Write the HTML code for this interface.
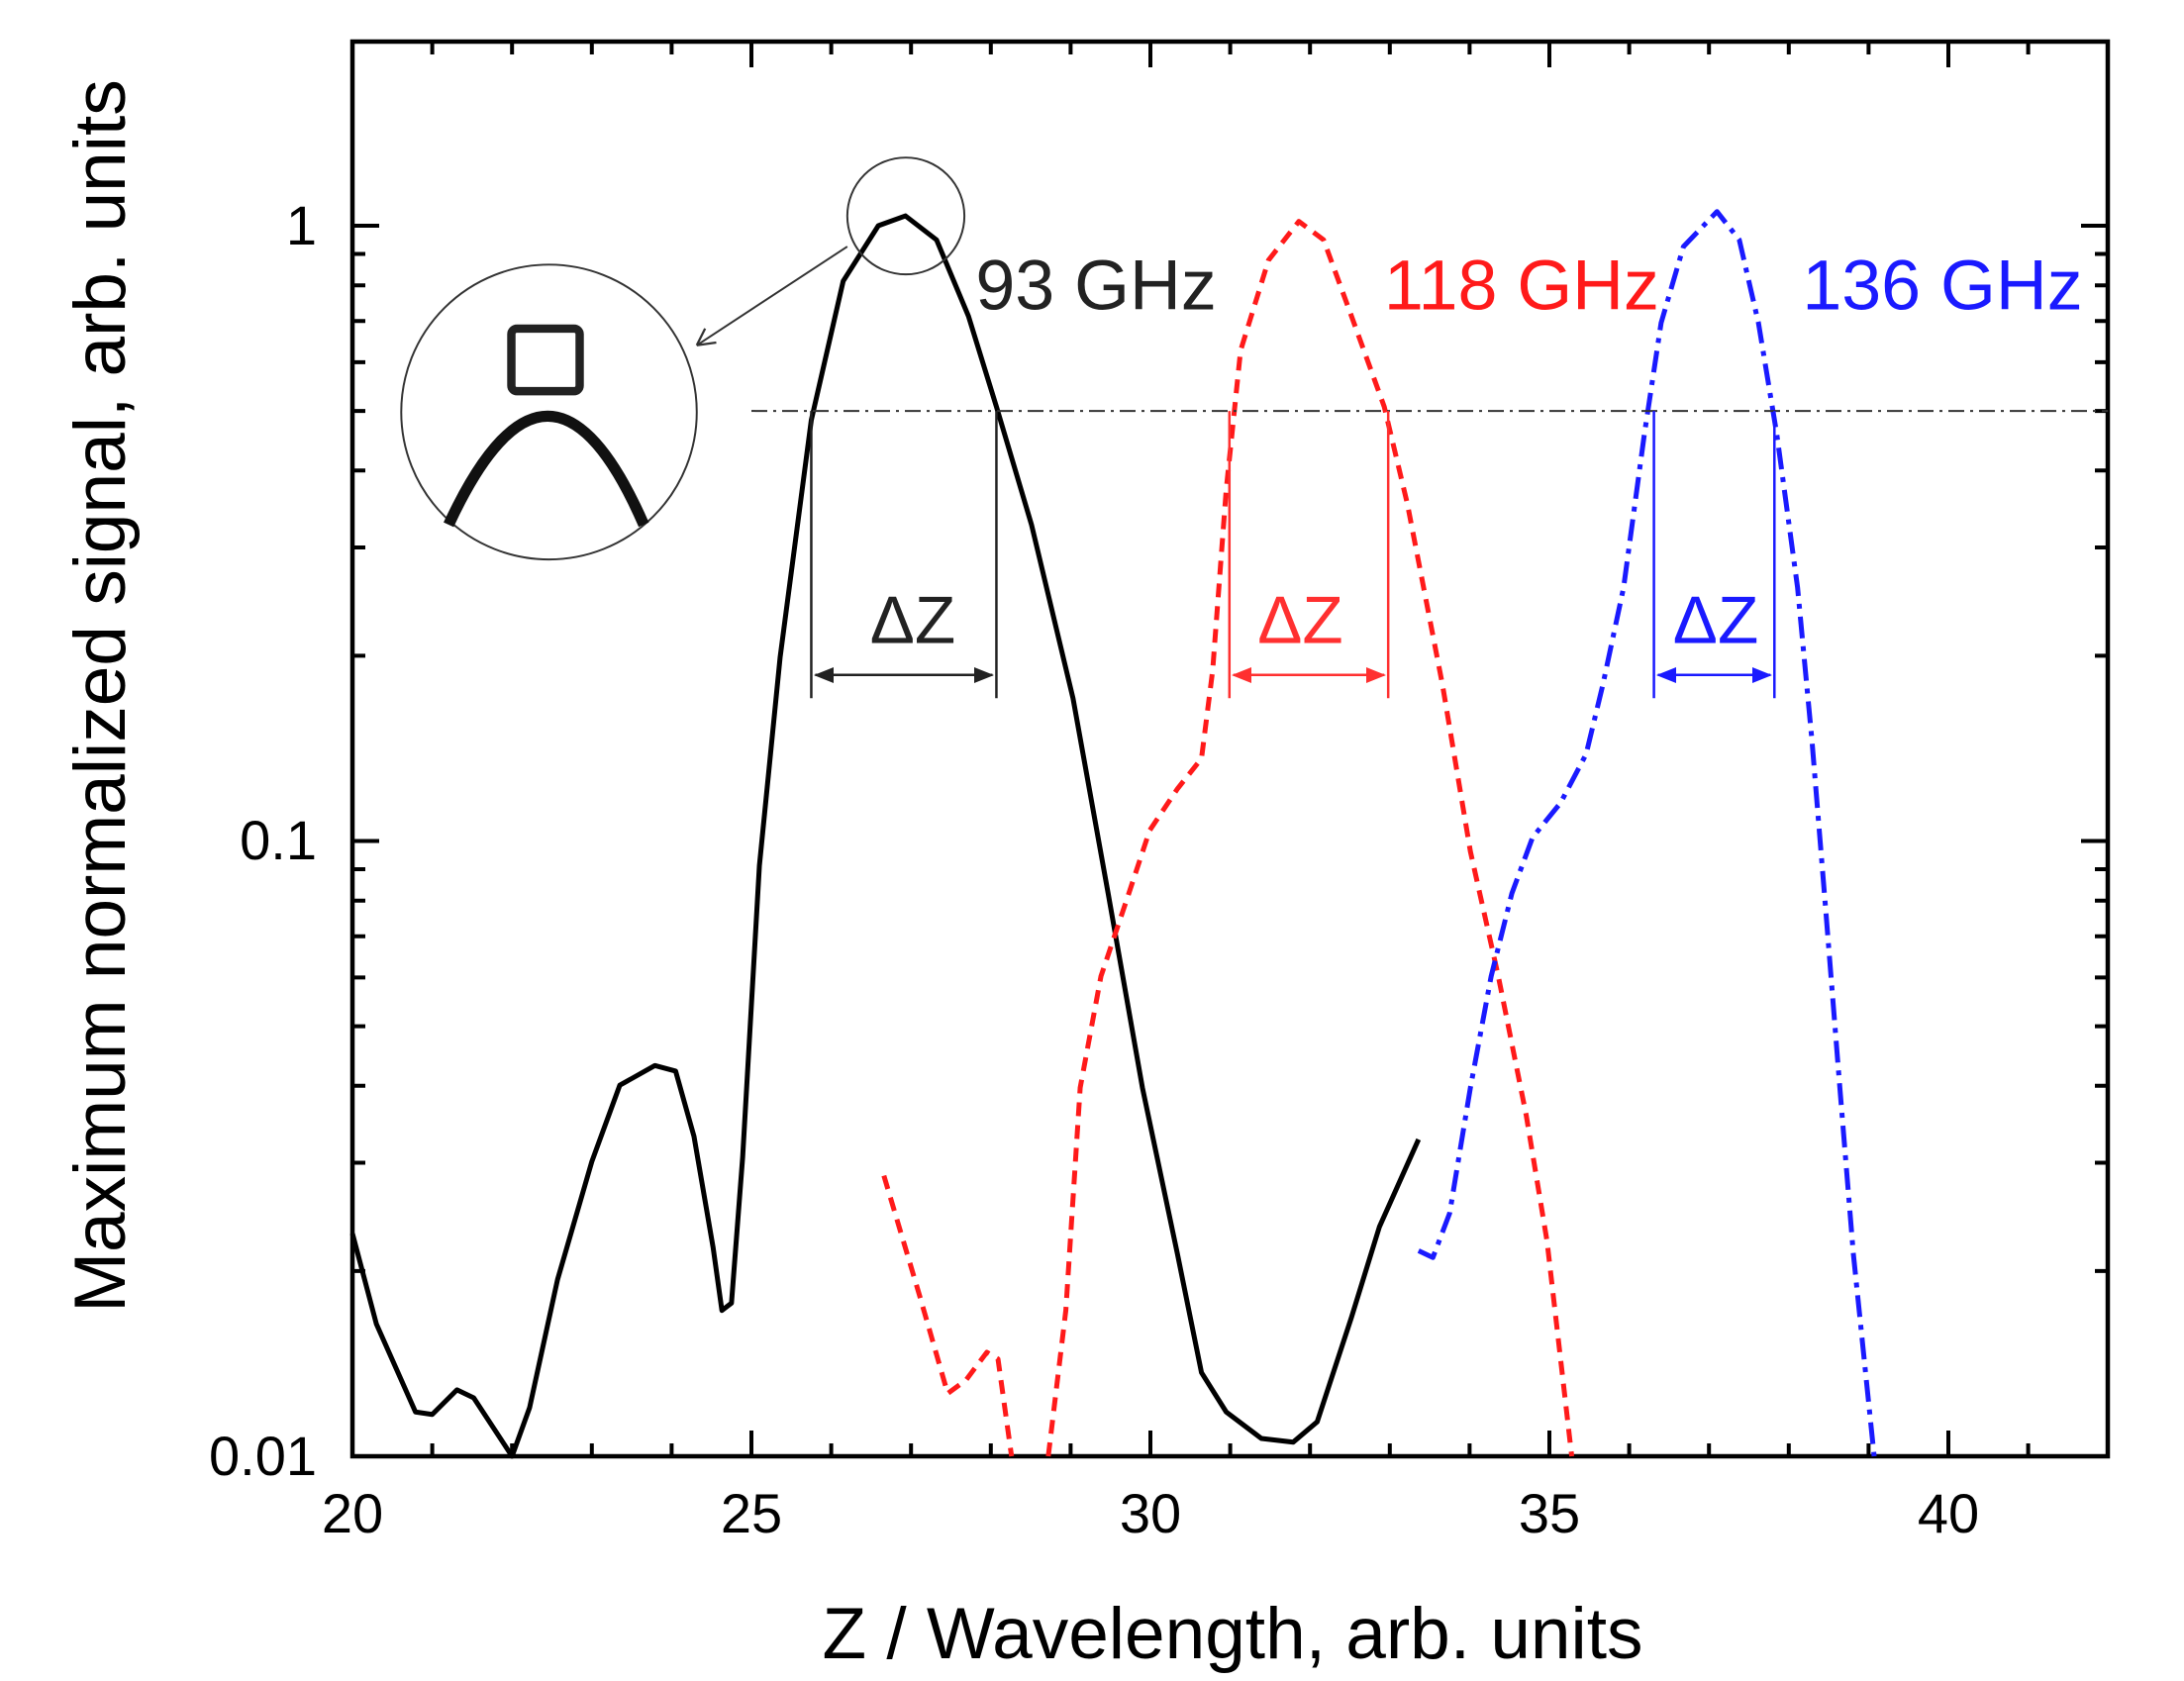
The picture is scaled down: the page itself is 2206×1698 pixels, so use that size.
<!DOCTYPE html>
<html><head><meta charset="utf-8"><style>html,body{margin:0;padding:0;background:#fff}svg{display:block}</style></head>
<body>
<svg width="2206" height="1698" viewBox="0 0 2206 1698" xmlns="http://www.w3.org/2000/svg" font-family="Liberation Sans, Arial, sans-serif">
<rect width="2206" height="1698" fill="#fff"/>
<rect x="356" y="42" width="1773" height="1429" fill="none" stroke="#000" stroke-width="4.5"/>
<g stroke="#000" stroke-width="4" fill="none">
<path d="M356 1471h27M356 849.5h27M356 228h27M2129 1471h-27M2129 849.5h-27M2129 228h-27"/>
<path d="M356 1283.9h13M356 1174.5h13M356 1096.8h13M356 1036.6h13M356 987.4h13M356 945.8h13M356 909.8h13M356 878h13M356 662.4h13M356 553h13M356 475.3h13M356 415.1h13M356 365.9h13M356 324.3h13M356 288.3h13M356 256.5h13"/>
<path d="M2129 1283.9h-13M2129 1174.5h-13M2129 1096.8h-13M2129 1036.6h-13M2129 987.4h-13M2129 945.8h-13M2129 909.8h-13M2129 878h-13M2129 662.4h-13M2129 553h-13M2129 475.3h-13M2129 415.1h-13M2129 365.9h-13M2129 324.3h-13M2129 288.3h-13M2129 256.5h-13"/>
<path d="M759 1471v-26M1162 1471v-26M1565 1471v-26M1968 1471v-26M759 42v26M1162 42v26M1565 42v26M1968 42v26"/>
<path d="M436.6 1471v-13M517.2 1471v-13M597.8 1471v-13M678.4 1471v-13M839.6 1471v-13M920.2 1471v-13M1000.8 1471v-13M1081.4 1471v-13M1242.6 1471v-13M1323.2 1471v-13M1403.8 1471v-13M1484.4 1471v-13M1645.6 1471v-13M1726.2 1471v-13M1806.8 1471v-13M1887.4 1471v-13M2048.6 1471v-13"/>
<path d="M436.6 42v13M517.2 42v13M597.8 42v13M678.4 42v13M839.6 42v13M920.2 42v13M1000.8 42v13M1081.4 42v13M1242.6 42v13M1323.2 42v13M1403.8 42v13M1484.4 42v13M1645.6 42v13M1726.2 42v13M1806.8 42v13M1887.4 42v13M2048.6 42v13"/>
</g>
<g font-size="56" fill="#000">
<text x="320" y="1490" text-anchor="end">0.01</text>
<text x="320" y="868" text-anchor="end">0.1</text>
<text x="320" y="247" text-anchor="end">1</text>
<g text-anchor="middle">
<text x="356" y="1548">20</text><text x="759" y="1548">25</text><text x="1162" y="1548">30</text><text x="1565" y="1548">35</text><text x="1968" y="1548">40</text>
</g>
</g>
<text x="1245" y="1675" font-size="73" text-anchor="middle">Z / Wavelength, arb. units</text>
<text transform="translate(126,703) rotate(-90)" font-size="73" text-anchor="middle">Maximum normalized signal, arb. units</text>

<g transform="matrix(80.6,0,0,-621.5,-1256,228)" fill="none" stroke-linejoin="round">
<polyline vector-effect="non-scaling-stroke" stroke="#000" stroke-width="5" points="20,-1.638 20.3,-1.785 20.79,-1.928 21,-1.932 21.31,-1.892 21.52,-1.905 22,-2 22.22,-1.921 22.57,-1.713 23,-1.521 23.35,-1.397 23.79,-1.365 24.05,-1.374 24.28,-1.48 24.52,-1.661 24.63,-1.763 24.75,-1.751 24.89,-1.514 25.1,-1.04 25.36,-0.701 25.75,-0.316 26.15,-0.09 26.59,0 26.93,0.016 27.32,-0.023 27.72,-0.147 28.07,-0.294 28.51,-0.486 29.03,-0.768 29.47,-1.085 29.9,-1.401 30.34,-1.672 30.64,-1.864 30.95,-1.928 31.39,-1.971 31.79,-1.977 32.09,-1.944 32.52,-1.774 32.87,-1.627 33.36,-1.485"/>
<polyline vector-effect="non-scaling-stroke" stroke="#ff1a1a" stroke-width="5" stroke-dasharray="14 9" points="26.66,-1.544 27.11,-1.74 27.46,-1.898 27.69,-1.876 27.95,-1.831 28.09,-1.842 28.26,-2"/>
<polyline vector-effect="non-scaling-stroke" stroke="#ff1a1a" stroke-width="5" stroke-dasharray="14 9" points="28.72,-2 28.94,-1.763 29.12,-1.401 29.38,-1.22 29.73,-1.085 29.99,-0.983 30.34,-0.915 30.64,-0.866 30.78,-0.723 30.95,-0.429 31.13,-0.203 31.48,-0.056 31.86,0.007 32.17,-0.023 32.52,-0.147 32.93,-0.294 33.22,-0.452 33.66,-0.746 34.01,-1.017 34.36,-1.22 34.71,-1.446 34.97,-1.65 35.28,-2"/>
<polyline vector-effect="non-scaling-stroke" stroke="#1a1aff" stroke-width="5" stroke-dasharray="22 8 5 8" points="33.36,-1.666 33.54,-1.677 33.75,-1.605 34.01,-1.401 34.27,-1.22 34.53,-1.085 34.79,-0.994 35.14,-0.938 35.46,-0.859 35.67,-0.746 35.93,-0.588 36.19,-0.339 36.4,-0.158 36.68,-0.034 37.1,0.023 37.38,-0.023 37.62,-0.158 37.85,-0.339 38.11,-0.588 38.29,-0.836 38.46,-1.107 38.64,-1.401 38.81,-1.672 39.07,-2"/>
<line vector-effect="non-scaling-stroke" x1="25" y1="-0.301" x2="42" y2="-0.301" stroke="#333" stroke-width="2" stroke-dasharray="16 6 3 6"/>
<path vector-effect="non-scaling-stroke" stroke="#222" stroke-width="2.5" d="M25.75,-0.301V-0.768M28.07,-0.301V-0.768M25.8,-0.73H28.02"/>
<path vector-effect="non-scaling-stroke" stroke="#ff3030" stroke-width="2.5" d="M30.99,-0.301V-0.768M32.98,-0.301V-0.768M31.04,-0.73H32.93"/>
<path vector-effect="non-scaling-stroke" stroke="#1a1aff" stroke-width="2.5" d="M36.31,-0.301V-0.768M37.82,-0.301V-0.768M36.36,-0.73H37.77"/>
</g>
<g>
<path d="M842 674L822 682L842 690ZM984 674L1004 682L984 690Z" fill="#222"/>
<path d="M1264 674L1244 682L1264 690ZM1380 674L1400 682L1380 690Z" fill="#ff3030"/>
<path d="M1693 674L1673 682L1693 690ZM1770 674L1790 682L1770 690Z" fill="#1a1aff"/>
</g>
<g transform="translate(356,228) scale(1.408,1.4045) translate(-253,-160)">
<g font-size="48">
<text x="655" y="460" text-anchor="middle" fill="#222">ΔZ</text>
<text x="933" y="460" text-anchor="middle" fill="#ff3030">ΔZ</text>
<text x="1231" y="460" text-anchor="middle" fill="#1a1aff">ΔZ</text>
</g>
<g font-size="51">
<text x="700" y="220" fill="#222">93 GHz</text>
<text x="993" y="220" fill="#ff1a1a">118 GHz</text>
<text x="1293" y="220" fill="#1a1aff">136 GHz</text>
</g>
<circle cx="650" cy="153" r="42" fill="none" stroke="#333" stroke-width="1.4"/>
<circle cx="394" cy="294" r="106" fill="none" stroke="#333" stroke-width="1.4"/>
<line x1="608" y1="175" x2="500" y2="246" stroke="#333" stroke-width="1.4"/>
<path d="M500 246l14 -2M500 246l6 -12" stroke="#333" stroke-width="1.6" fill="none"/>
<rect x="367" y="234" width="49" height="45" rx="4" fill="none" stroke="#222" stroke-width="6"/>
<path d="M322 375Q394 219 462 375" fill="none" stroke="#111" stroke-width="8"/>
</g>
</svg>
</body></html>
